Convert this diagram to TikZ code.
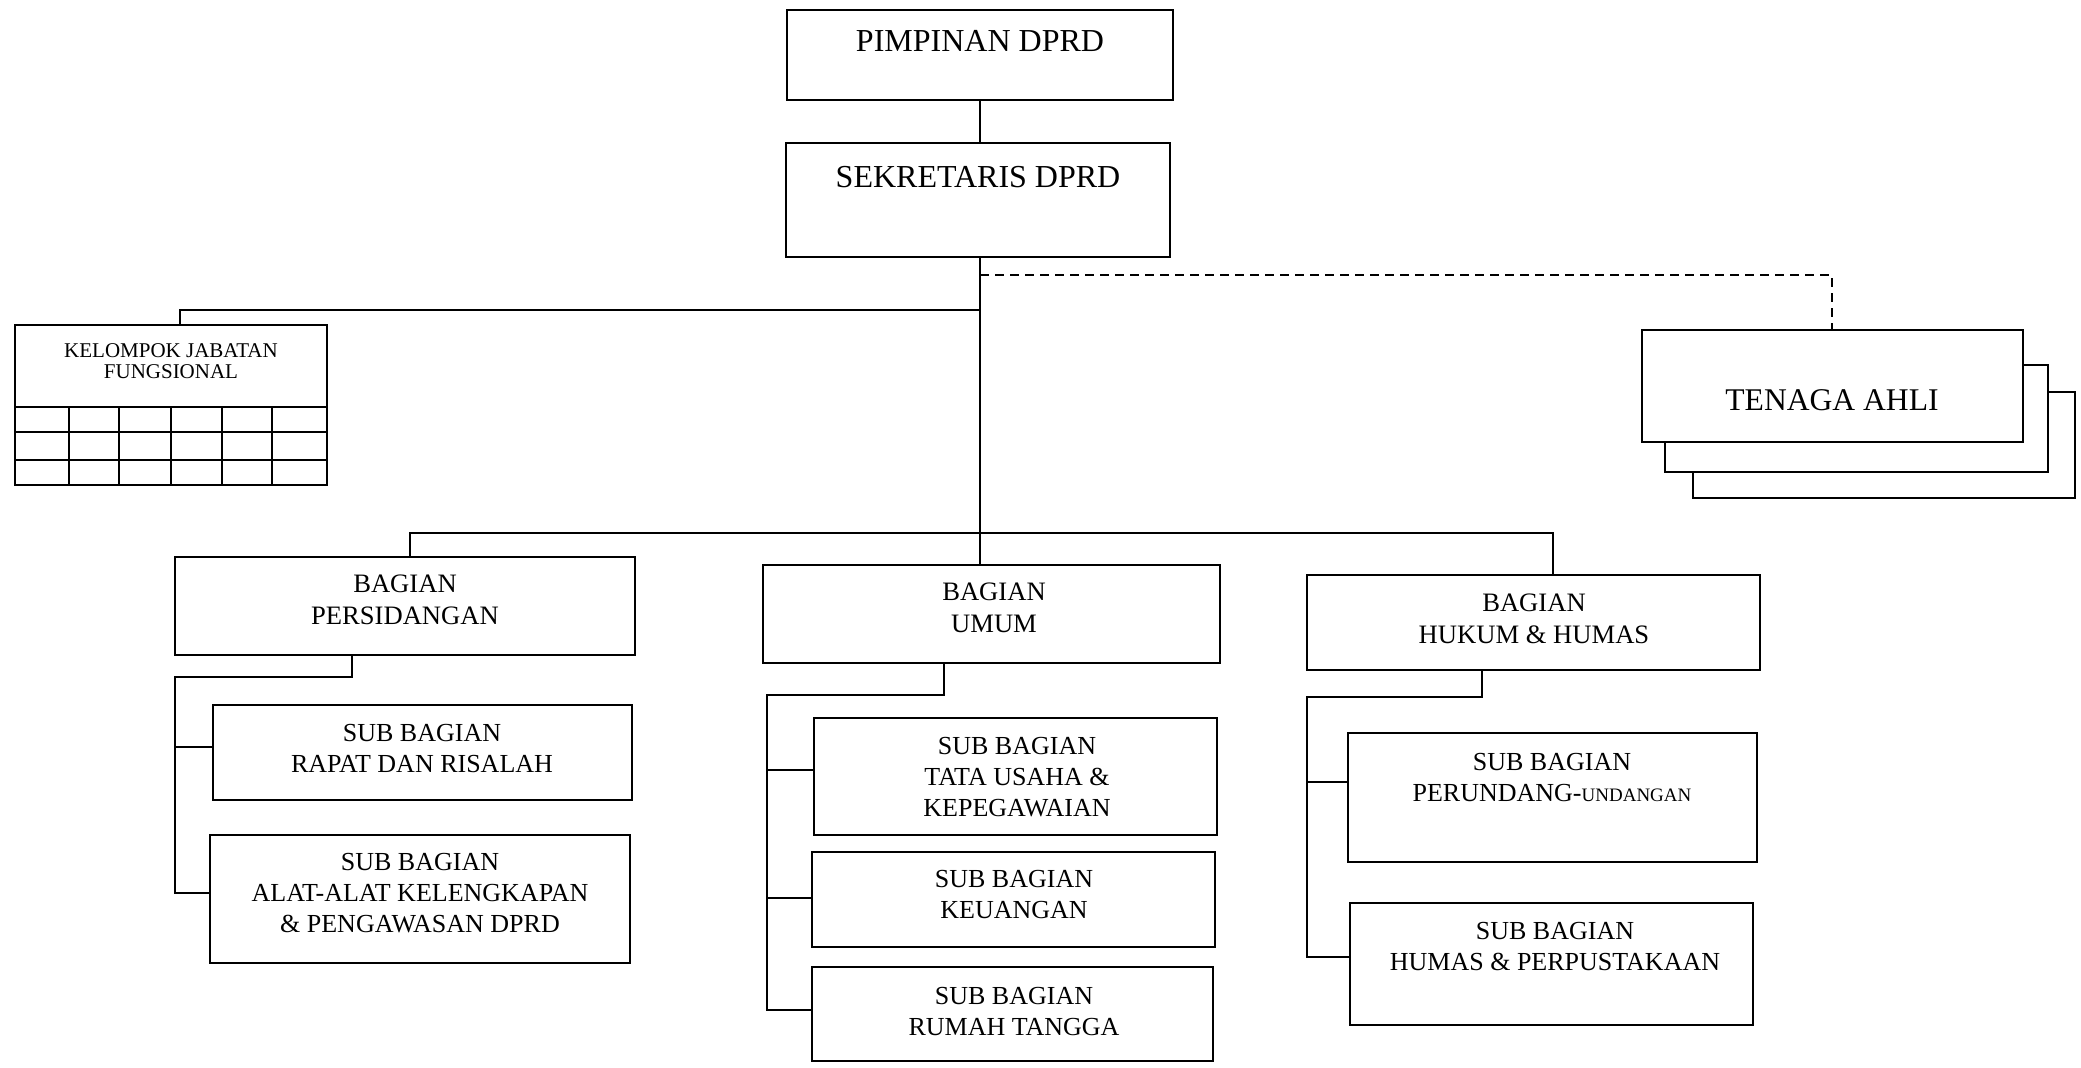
\documentclass[tikz,border=0pt]{standalone}
\usepackage{fontspec}
\setmainfont{Liberation Serif}
\usetikzlibrary{fit}
\tikzset{
 bx/.style={draw, line width=1pt, inner sep=0pt, fill=white},
 ln/.style={line width=1pt},
 dl/.style={line width=1pt, dash pattern=on 4.5pt off 3pt},
 tbig/.style={inner sep=0pt, align=center, font=\fontsize{16}{19}\selectfont},
 tbag/.style={inner sep=0pt, align=center, font=\fontsize{13.3}{16}\selectfont},
 tsub/.style={inner sep=0pt, align=center, font=\fontsize{13}{15.5}\selectfont},
 tkel/.style={inner sep=0pt, align=center, font=\fontsize{10.5}{10.8}\selectfont},
}
\begin{document}
\begin{tikzpicture}[x=0.5pt,y=-0.5pt]
\useasboundingbox (0,0) rectangle (2081,1067);
% top
\node[bx, fit={(787,10) (1173,100)}] (pim) {};
\node[tbig] at (980,41) {PIMPINAN DPRD};
\node[bx, fit={(786,143) (1170,257)}] (sek) {};
\node[tbig] at (978,177) {SEKRETARIS DPRD};
% kelompok
\node[bx, fit={(15,325) (327,485)}] (kel) {};
\draw[ln] (15,407) -- (327,407) (15,432) -- (327,432) (15,460) -- (327,460);
\foreach \xx in {69,119,171,222,272} \draw[ln] (\xx,407) -- (\xx,485);
\node[tkel] at (171,361) {KELOMPOK JABATAN\\FUNGSIONAL};
% tenaga ahli
\node[bx, fit={(1693,392) (2075,498)}] (ta3) {};
\node[bx, fit={(1665,365) (2048,472)}] (ta2) {};
\node[bx, fit={(1642,330) (2023,442)}] (ta) {};
\node[tbig, font=\fontsize{15.8}{19}\selectfont] at (1832,400) {TENAGA AHLI};
% bagian
\node[bx, fit={(175,557) (635,655)}] (bp) {};
\node[tbag] at (405,600) {BAGIAN\\PERSIDANGAN};
\node[bx, fit={(763,565) (1220,663)}] (bu) {};
\node[tbag] at (994,608) {BAGIAN\\UMUM};
\node[bx, fit={(1307,575) (1760,670)}] (bh) {};
\node[tbag] at (1534,618.5) {BAGIAN\\HUKUM \& HUMAS};
% sub bagian
\node[bx, fit={(213,705) (632,800)}] (sp1) {};
\node[tsub] at (422,749) {SUB BAGIAN\\RAPAT DAN RISALAH};
\node[bx, fit={(210,835) (630,963)}] (sp2) {};
\node[tsub] at (420,893) {SUB BAGIAN\\ALAT-ALAT KELENGKAPAN\\\& PENGAWASAN DPRD};
\node[bx, fit={(814,718) (1217,835)}] (su1) {};
\node[tsub] at (1017,777) {SUB BAGIAN\\TATA USAHA \&\\KEPEGAWAIAN};
\node[bx, fit={(812,852) (1215,947)}] (su2) {};
\node[tsub] at (1014,895) {SUB BAGIAN\\KEUANGAN};
\node[bx, fit={(812,967) (1213,1061)}] (su3) {};
\node[tsub] at (1014,1011) {SUB BAGIAN\\RUMAH TANGGA};
\node[bx, fit={(1348,733) (1757,862)}] (sh1) {};
\node[tsub] at (1552,778) {SUB BAGIAN\\PERUNDANG-{\fontsize{9.5}{15.5}\selectfont UNDANGAN}};
\node[bx, fit={(1350,903) (1753,1025)}] (sh2) {};
\node[tsub] at (1555,946) {SUB BAGIAN\\HUMAS \& PERPUSTAKAAN};
% main connectors
\coordinate (jt) at (980,275);
\coordinate (jk) at (980,310);
\coordinate (bus) at (980,533);
\coordinate (bl) at (410,533);
\coordinate (br) at (1553,533);
\coordinate (kl) at (180,310);
\coordinate (tr) at (1832,275);
\draw[ln] (pim.south) -- (pim.south |- sek.north);
\draw[ln] (sek.south -| jk) -- (bus) -- (bus |- bu.north);
\draw[ln] (bl |- bp.north) -- (bl) -- (br) -- (br |- bh.north);
\draw[ln] (jk) -- (kl) -- (kl |- kel.north);
\draw[dl] (jt) -- (tr) -- (tr |- ta.north);
% persidangan subs
\coordinate (pd) at (352,677);
\coordinate (pl) at (175,677);
\coordinate (pb1) at (175,747);
\coordinate (pb2) at (175,893);
\draw[ln] (pd |- bp.south) -- (pd) -- (pl) -- (pb2) -- (pb2 -| sp2.west);
\draw[ln] (pb1) -- (pb1 -| sp1.west);
% umum subs
\coordinate (ud) at (944,695);
\coordinate (ul) at (767,695);
\coordinate (ub1) at (767,770);
\coordinate (ub2) at (767,898);
\coordinate (ub3) at (767,1010);
\draw[ln] (ud |- bu.south) -- (ud) -- (ul) -- (ub3) -- (ub3 -| su3.west);
\draw[ln] (ub1) -- (ub1 -| su1.west);
\draw[ln] (ub2) -- (ub2 -| su2.west);
% hukum subs
\coordinate (hd) at (1482,697);
\coordinate (hl) at (1307,697);
\coordinate (hb1) at (1307,782);
\coordinate (hb2) at (1307,957);
\draw[ln] (hd |- bh.south) -- (hd) -- (hl) -- (hb2) -- (hb2 -| sh2.west);
\draw[ln] (hb1) -- (hb1 -| sh1.west);
\end{tikzpicture}
\end{document}
